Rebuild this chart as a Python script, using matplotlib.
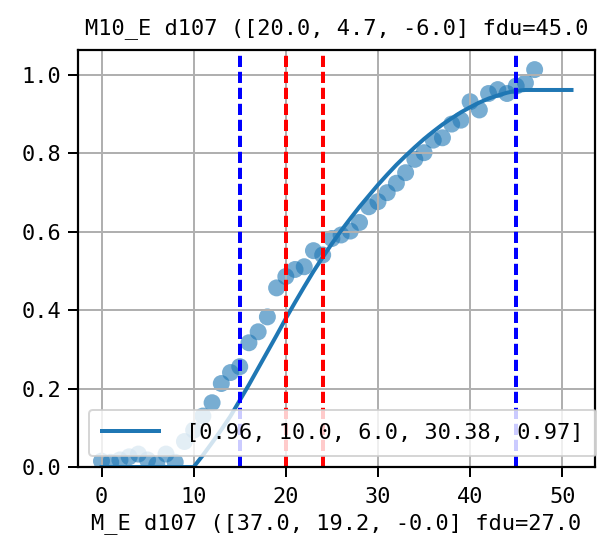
import numpy as np
import matplotlib
matplotlib.use("Agg")
import matplotlib.pyplot as plt

# scatter data
xs = list(range(48))
ys = [0.015, 0.012, 0.018, 0.026, 0.033, 0.018, 0.006, 0.033, 0.012, 0.065,
      0.094, 0.130, 0.164, 0.213, 0.241, 0.256, 0.317, 0.345, 0.383, 0.457,
      0.486, 0.504, 0.511, 0.552, 0.541, 0.583, 0.592, 0.602, 0.624, 0.664,
      0.677, 0.700, 0.724, 0.751, 0.785, 0.802, 0.834, 0.840, 0.875, 0.885,
      0.932, 0.911, 0.953, 0.963, 0.953, 0.972, 0.980, 1.014]

# fitted curve
fit_x = list(range(52))
fit_y = [0.0] * 11 + [0.030, 0.062, 0.095, 0.130, 0.170, 0.210, 0.252, 0.294,
                      0.336, 0.379, 0.420, 0.460, 0.499, 0.535, 0.570, 0.603,
                      0.634, 0.664, 0.692, 0.720, 0.746, 0.771, 0.794, 0.816,
                      0.837, 0.856, 0.874, 0.890, 0.905, 0.918, 0.930, 0.940,
                      0.948, 0.955, 0.960, 0.962, 0.962, 0.962, 0.962, 0.962,
                      0.962]
fit_label = "[0.96, 10.0, 6.0, 30.38, 0.97]"

blue_lines = [15, 45]
red_lines = [20, 24]

title = "M10_E d107 ([20.0, 4.7, -6.0] fdu=45.0"
xlab = "M_E d107 ([37.0, 19.2, -0.0] fdu=27.0"

plt.rcParams['font.family'] = ['DejaVu Sans Mono']
plt.rcParams['font.size'] = 11

fig = plt.figure(figsize=(597/144, 545/144), dpi=144)
ax = fig.add_axes([78/597, 78/545, 517/597, 417/545])

ax.scatter(xs, ys, s=72, alpha=0.6, color='C0', edgecolors='none')
ax.plot(fit_x, fit_y, color='C0', lw=2, label=fit_label)
for v in blue_lines:
    ax.axvline(v, color='b', ls='--', lw=2, dashes=(2.8, 1.2))
for v in red_lines:
    ax.axvline(v, color='r', ls='--', lw=2, dashes=(2.8, 1.2))

ax.set_xlim(-2.55, 53.55)
ax.set_ylim(0, 1.064)
ax.set_xticks([0, 10, 20, 30, 40, 50])
ax.set_yticks([0.0, 0.2, 0.4, 0.6, 0.8, 1.0])
ax.tick_params(length=5, width=1, labelsize=11)
ax.tick_params(axis='x', pad=5)
for s in ax.spines.values():
    s.set_linewidth(1.1)
ax.grid(True, lw=1.0)
ax.set_title(title, fontsize=11, pad=8)
ax.set_xlabel(xlab, fontsize=11, labelpad=3)
ax.legend(loc='lower left', fontsize=11, handlelength=2.6, handletextpad=1.2,
          borderpad=0.6)

fig.savefig("out.png", dpi=144)
